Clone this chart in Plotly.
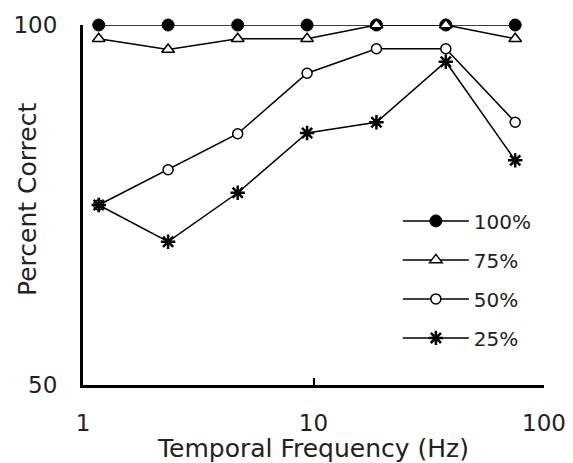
import plotly.graph_objects as go

freq = [1.17, 2.34, 4.69, 9.38, 18.75, 37.5, 75]
s100 = [100, 100, 100, 100, 100, 100, 100]
s75 = [98.1, 96.6, 98.1, 98.1, 100, 100, 98.1]
s50 = [75.0, 79.9, 84.9, 93.3, 96.7, 96.7, 86.5]
s25 = [75.0, 69.9, 76.7, 85.0, 86.5, 94.9, 81.2]
names = ["100%", "75%", "50%", "25%"]
xticks = [1, 10, 100]
yticks = [50, 100]
x_title = "Temporal Frequency (Hz)"
y_title = "Percent Correct"

FONT = "DejaVu Sans"
fig = go.Figure()
styles = [
    dict(symbol="circle", size=12, color="black", line=dict(color="black", width=1)),
    dict(symbol="triangle-up", size=11, color="white", line=dict(color="black", width=1.5)),
    dict(symbol="circle", size=10, color="white", line=dict(color="black", width=1.5)),
    dict(symbol="asterisk-open", size=12, color="black", line=dict(color="black", width=2.5)),
]
for i, (nm, ys) in enumerate(zip(names, [s100, s75, s50, s25])):
    fig.add_trace(go.Scatter(
        x=freq, y=ys, name=nm, mode="lines+markers",
        line=dict(color="black", width=1.5),
        marker=styles[i], legendgroup=nm, cliponaxis=False,
    ))

# page body has an 8px margin, so the figure is drawn 8px smaller and offset
fig.update_layout(
    width=565, height=455,
    margin=dict(l=75, r=29, t=17, b=78, autoexpand=False),
    paper_bgcolor="white", plot_bgcolor="white",
    font=dict(family=FONT, color="#222", size=20),
    showlegend=True,
    legend=dict(x=0.683, y=0.51, xanchor="left", yanchor="top",
                bgcolor="rgba(0,0,0,0)", font=dict(size=20, family=FONT),
                itemwidth=66, tracegroupgap=10, traceorder="grouped"),
    annotations=[dict(text=y_title, textangle=-90, xref="paper", yref="paper",
                      x=0, y=0.5, xanchor="center", yanchor="middle",
                      xshift=-56, yshift=5, showarrow=False,
                      font=dict(size=25, family=FONT, color="#222"))],
)
fig.update_xaxes(type="log", range=[0, 2], tickvals=xticks, ticktext=[str(v) for v in xticks],
                 showgrid=False, zeroline=False, showline=True, linecolor="black", linewidth=3,
                 ticks="inside", ticklen=7, tickwidth=2, tickcolor="black", automargin=False,
                 tickfont=dict(size=23, family=FONT), ticklabelstandoff=15,
                 title=dict(text=x_title, font=dict(size=25), standoff=4))
fig.update_yaxes(range=[50, 100], tickvals=yticks, showgrid=False, zeroline=False,
                 showline=True, linecolor="black", linewidth=3, ticks="", automargin=False,
                 tickfont=dict(size=23, family=FONT), ticklabelstandoff=18)
fig.write_html("out.html")
